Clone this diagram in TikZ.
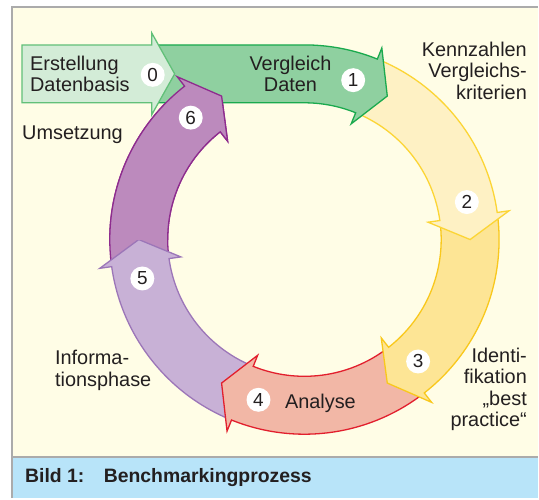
\documentclass[tikz,border=0pt]{standalone}
\usepackage{fontspec}
\setmainfont{Liberation Sans}
\usepackage{tikz}
\usetikzlibrary{positioning}

\definecolor{cream}{HTML}{FFFDE6}
\definecolor{capblue}{HTML}{B8E4F9}
\definecolor{framegray}{HTML}{ABABAB}
\definecolor{txt}{HTML}{231F20}
\definecolor{basisfill}{HTML}{D3ECD7}
\definecolor{basisline}{HTML}{62C079}
\definecolor{greenfill}{HTML}{8FD0A0}
\definecolor{greenline}{HTML}{1AAA4E}
\definecolor{paleyellow}{HTML}{FEF1C4}
\definecolor{yellowline}{HTML}{FCD535}
\definecolor{yellowfill}{HTML}{FDE595}
\definecolor{darkyellowline}{HTML}{F9C81C}
\definecolor{redfill}{HTML}{F2B7A6}
\definecolor{redline}{HTML}{E21F2D}
\definecolor{lilacfill}{HTML}{C8B1D6}
\definecolor{lilacline}{HTML}{9C76B8}
\definecolor{purplefill}{HTML}{BC8ABD}
\definecolor{purpleline}{HTML}{8E2C8E}

% ring arrow: start angle, barb angle, fill, border
\newcommand{\ringarrow}[4]{%
  \filldraw[fill=#3, draw=#4, line width=1.3bp, line join=miter]
    (#1:195) arc[start angle=#1, end angle=#2, radius=195]
    -- (#2:207) -- ({#2-8}:166) -- (#2:125) -- (#2:137)
    arc[start angle=#2, end angle=#1, radius=137] -- cycle;}

\tikzset{
  num/.style={circle, fill=white, inner sep=0pt, minimum size=24bp, text=txt,
    font=\fontsize{19}{19}\selectfont},
  lbl/.style={inner sep=0pt, text=txt, font=\fontsize{20}{21.5}\selectfont},
}

\begin{document}
\begin{tikzpicture}[x=1bp, y=1bp]
% frame and caption
\fill[white] (-305,-259) rectangle (234,240);
\fill[cream] (-293,-218) rectangle (234,233);
\fill[capblue] (-293,-259) rectangle (234,-218);
\draw[framegray, line width=2bp] (-293,-259) -- (-293,233) -- (234,233);
\draw[framegray, line width=2bp] (-293,-218) -- (234,-218);

% the cycle
\ringarrow{187}{128}{purplefill}{purpleline}
\ringarrow{-113}{-172}{lilacfill}{lilacline}
\ringarrow{-53}{-112}{redfill}{redline}
\ringarrow{7}{-52}{yellowfill}{darkyellowline}
\ringarrow{67}{8}{paleyellow}{yellowline}
\filldraw[fill=greenfill, draw=greenline, line width=1.3bp, line join=miter]
  (-148,195) -- (0,195) arc[start angle=90, end angle=68, radius=195]
  -- (68:207) -- (60:166) -- (68:125) -- (68:137)
  arc[start angle=68, end angle=90, radius=137] -- (-148,137) -- cycle;
\filldraw[fill=basisfill, draw=basisline, line width=1.3bp, line join=miter]
  (-283,195) -- (-153,195) -- (-153,207) -- (-130,166) -- (-153,125)
  -- (-153,137) -- (-283,137) -- cycle;
% head of the last step lies on top again
\begin{scope}
  \clip (-300,0) rectangle (0,238);
  \ringarrow{187}{128}{purplefill}{purpleline}
\end{scope}

% step numbers
\node (n0) [num] at (-152,165) {0};
\node (n1) [num] at (73:167) {1};
\node (n2) [num] at (13:167) {2};
\node (n3) [num] at (-47:167) {3};
\node (n4) [num] at (-106:167) {4};
\node (n5) [num] at (-166.5:167) {5};
\node (n6) [num] at (133:167) {6};

% texts
\node (basis) [lbl, anchor=west, align=left] at (-275,166) {Erstellung\\Datenbasis};
\node (vergleich) [lbl, align=center] at (-14,166) {Vergleich\\Daten};
\node (kennzahlen) [lbl, anchor=east, align=right] at (223,169) {Kennzahlen\\Vergleichs-\\kriterien};
\node (ident) [lbl, anchor=east, align=right] at (223,-150) {Identi-\\fikation\\„best\\practice“};
\node (analyse) [lbl] at (16,-164) {Analyse};
\node (info) [lbl, anchor=west, align=left] at (-250,-131) {Informa-\\tionsphase};
\node (umsetzung) [lbl, anchor=west] at (-283,105) {Umsetzung};

\node (caption) [lbl, anchor=west, font=\fontsize{19.5}{21.5}\selectfont\bfseries] at (-280,-238) {Bild 1:\quad Benchmarkingprozess};
\end{tikzpicture}
\end{document}
